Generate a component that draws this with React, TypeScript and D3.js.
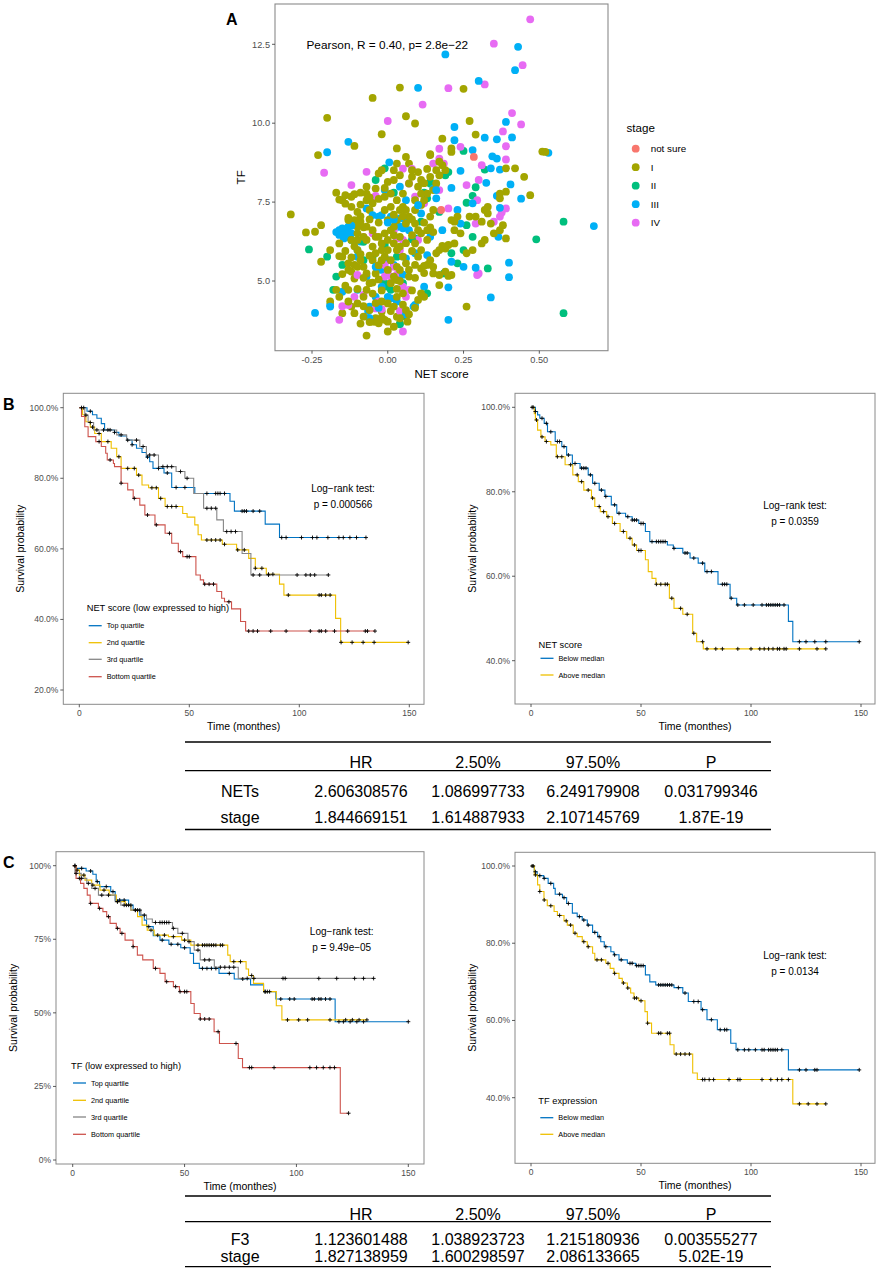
import React from 'react';
import * as d3 from 'd3';

const FONT = "'Liberation Sans', Arial, Helvetica, sans-serif";
const TICK_COL = '#4D4D4D';
const BORDER = '#8A8A8A';
const C_BLUE = '#0073C2';
const C_YEL = '#EFC000';
const C_GREY = '#868686';
const C_RED = '#CD534C';

// ---------------- Panel A data: [NET score, TF] per stage ----------------
const stageNotSure: [number, number][] = [[0.284, 8.93], [0.176, 7.25]];

const stageI: [number, number][] = [
  [-0.32, 7.11], [-0.27, 6.54], [-0.24, 6.56], [-0.22, 6.77], [-0.22, 5.61], [-0.23, 8.99],
  [-0.17, 7.8], [-0.15, 7.56], [-0.14, 7.72], [-0.12, 7.67], [-0.11, 7.75], [-0.09, 7.8], [-0.07, 7.77], [-0.16, 7.58],
  [-0.16, 5.79], [-0.15, 5.77], [-0.13, 5.56], [-0.12, 5.3], [-0.11, 5.08], [-0.15, 5.22], [-0.11, 5.51],
  [-0.17, 4.72], [-0.19, 4.35], [-0.16, 4.5], [-0.13, 4.72], [-0.12, 4.19], [-0.11, 3.98], [-0.15, 3.98], [-0.05, 3.71],
  [-0.04, 3.82], [0.0, 3.71], [0.03, 3.87], [0.04, 3.66], [-0.02, 4.03],
  [-0.1, 7.19], [-0.09, 6.88], [-0.08, 6.7], [-0.06, 7.25], [-0.05, 7.46], [-0.05, 7.56], [-0.04, 7.93], [-0.03, 8.41],
  [-0.02, 8.51], [0.0, 8.14], [0.02, 8.51], [0.03, 8.72], [0.07, 8.72], [0.06, 8.93], [-0.07, 7.99], [-0.07, 7.56],
  [-0.07, 6.72], [-0.05, 6.61], [-0.04, 6.4], [-0.02, 6.19], [-0.05, 6.09], [-0.08, 6.4], [-0.1, 6.51], [-0.1, 6.72],
  [-0.12, 6.3], [-0.11, 6.93],
  [-0.08, 4.5], [-0.07, 4.72], [-0.06, 4.93], [-0.04, 5.24], [-0.02, 5.66], [0.0, 5.98], [0.02, 6.19], [0.03, 5.98],
  [0.04, 6.4], [0.06, 6.82], [0.07, 7.04], [0.09, 7.25], [0.11, 7.41], [0.12, 7.56], [0.13, 7.77], [0.15, 7.88],
  [0.16, 8.09], [0.17, 8.35], [0.19, 8.51], [0.18, 8.67], [0.14, 8.99], [0.17, 8.78], [0.21, 9.09],
  [0.09, 7.56], [0.1, 7.99], [0.11, 8.2], [0.07, 8.09], [0.05, 7.77], [0.04, 7.25], [0.03, 6.93], [0.01, 6.61],
  [0.01, 7.35], [-0.01, 7.25], [0.0, 6.93], [0.02, 6.72], [-0.01, 6.51], [0.0, 6.3], [-0.02, 5.98], [-0.05, 5.66],
  [-0.09, 5.66], [-0.08, 5.45], [-0.07, 5.24], [-0.1, 5.98],
  [0.1, 6.61], [0.11, 6.51], [0.13, 6.61], [0.14, 7.04], [0.15, 7.25], [0.09, 6.19], [0.11, 5.98], [0.1, 5.77],
  [0.09, 5.51], [0.11, 5.4], [0.13, 5.51], [0.14, 5.66], [0.15, 5.24], [0.17, 5.19], [0.19, 5.3], [0.21, 5.19],
  [0.19, 6.03], [0.17, 5.98], [0.2, 6.14], [0.21, 6.93], [0.22, 6.88], [0.23, 7.04], [0.22, 6.61],
  [0.12, 4.5], [0.11, 4.61], [0.05, 4.61], [0.03, 4.5], [0.02, 4.19], [-0.02, 4.35], [0.01, 4.93], [0.02, 5.14],
  [0.04, 5.35], [0.06, 5.56], [0.07, 5.14], [0.05, 5.77], [0.04, 6.09],
  [0.26, 4.19], [0.17, 4.87], [0.22, 6.19], [0.24, 6.51], [0.27, 7.04], [0.29, 7.04], [0.31, 6.88], [0.32, 7.25],
  [0.33, 7.35], [0.35, 6.51], [0.37, 6.61], [0.38, 6.77], [0.39, 7.83], [0.37, 7.77], [0.39, 8.57], [0.42, 8.57],
  [0.45, 8.3], [0.47, 7.72], [0.52, 9.09], [0.39, 6.35],
  [-0.01, 7.67], [0.01, 7.77], [0.03, 7.56], [0.05, 7.35], [0.06, 7.25], [0.08, 8.51], [0.11, 7.77], [0.14, 8.3], [0.16, 8.51],
  [-0.04, 5.88], [-0.01, 5.77], [0.01, 5.66], [-0.1, 6.3], [0.09, 6.82], [0.03, 5.03], [0.0, 4.29], [-0.06, 4.08],
  [-0.08, 3.87], [-0.03, 3.66], [-0.1, 4.29], [-0.19, 5.98], [-0.16, 6.19], [-0.13, 6.93],
  [-0.2, 10.17], [-0.11, 9.28], [-0.05, 10.8], [-0.02, 9.65], [0.03, 9.2], [0.04, 11.13], [0.06, 10.22], [0.09, 9.99],
  [0.25, 11.09], [0.27, 10.07], [0.29, 9.64], [0.18, 9.51], [0.21, 9.2], [0.14, 9.02], [0.51, 9.1],
  [0.37, 7.62], [0.33, 7.14], [0.34, 6.82], [0.32, 6.3], [0.31, 6.19], [0.28, 5.98], [0.26, 5.88], [0.2, 5.16],
  [0.15, 5.45], [0.12, 5.48], [0.16, 5.88], [0.18, 6.11],
  [-0.07, 3.27], [-0.04, 3.71], [-0.06, 3.7], [-0.01, 3.77], [0.0, 3.4], [0.04, 3.82], [0.06, 4.08], [0.065, 3.71], [0.09, 4.15],
  [-0.14, 7.45], [-0.12, 7.35], [-0.09, 7.42], [-0.06, 7.65], [-0.03, 7.6], [-0.01, 7.95], [0.02, 8.2], [0.04, 8.35],
  [0.08, 8.3], [0.1, 8.45], [0.12, 8.1], [0.13, 8.55],
  [-0.13, 7.0], [-0.09, 7.05], [-0.06, 6.95], [-0.03, 6.85], [0.02, 7.1], [0.05, 7.05], [0.08, 6.95], [0.12, 6.85], [0.14, 6.7],
  [-0.11, 6.1], [-0.07, 6.3], [-0.03, 6.4], [0.02, 6.45], [0.06, 6.2], [0.08, 6.45], [0.13, 6.3], [0.15, 6.55],
  [-0.14, 5.95], [-0.12, 5.75], [-0.09, 5.85], [-0.06, 5.8], [-0.03, 5.5], [0.0, 5.35], [0.03, 5.45], [0.07, 5.35], [0.08, 5.95],
  [-0.13, 5.35], [-0.1, 5.45], [-0.08, 5.1], [-0.05, 4.95], [-0.03, 5.05], [0.04, 5.0], [0.09, 5.1], [0.12, 5.25],
  [-0.14, 4.85], [-0.1, 4.75], [-0.05, 4.6], [-0.02, 4.7], [0.03, 4.75], [0.08, 4.7], [0.1, 4.4],
  [-0.13, 4.35], [-0.08, 4.2], [-0.04, 4.3], [0.01, 4.05], [0.05, 4.25], [0.07, 3.95], [-0.09, 3.65], [0.02, 3.55], [-0.02, 3.85],
];

const stageII: [number, number][] = [
  [-0.26, 6.0], [-0.2, 5.77], [-0.17, 5.14], [-0.18, 4.72], [-0.15, 5.51], [-0.08, 5.66], [-0.05, 5.77], [-0.01, 4.93],
  [0.0, 4.82], [0.01, 4.72], [0.03, 5.77], [0.05, 4.93], [0.09, 6.35], [0.11, 6.88], [0.17, 7.19], [0.14, 8.09],
  [0.26, 6.77], [0.29, 7.97], [0.25, 5.98], [0.28, 6.4], [0.33, 5.4], [0.185, 5.24], [0.23, 5.56], [0.21, 5.88],
  [0.13, 4.61], [0.58, 6.88], [0.49, 6.32], [0.58, 3.98], [0.05, 3.92], [0.06, 3.87],
  [0.25, 9.12], [0.32, 8.53], [0.28, 7.7], [0.26, 7.48], [0.14, 8.14], [0.19, 8.35], [0.2, 8.45], [-0.01, 8.57],
  [-0.04, 8.2], [0.02, 7.8], [0.12, 7.8], [0.13, 7.62], [0.08, 6.32], [-0.08, 6.24], [-0.12, 6.3], [-0.01, 6.14], [0.04, 3.63],
];

const stageIII: [number, number][] = [
  [-0.01, 7.88], [0.01, 7.04], [0.03, 6.72], [0.05, 6.67], [0.06, 6.88], [0.07, 6.61], [-0.1, 5.77], [-0.1, 5.98],
  [-0.07, 5.14], [-0.02, 5.35], [0.0, 5.66], [0.02, 5.51], [0.06, 5.72], [0.09, 5.88], [0.12, 4.82], [0.09, 4.24],
  [-0.06, 4.19], [-0.1, 4.72], [-0.19, 4.24], [-0.24, 3.99], [-0.15, 4.66], [0.0, 4.5], [-0.04, 4.5],
  [-0.16, 6.61], [-0.15, 6.67], [-0.14, 6.56], [-0.13, 6.72], [-0.16, 6.46], [-0.13, 6.4], [-0.12, 6.51], [-0.145, 6.35],
  [-0.07, 7.3], [-0.03, 7.04], [-0.02, 7.09], [0.04, 7.99], [0.06, 7.56], [0.04, 6.98], [0.04, 6.72], [0.11, 7.14],
  [-0.09, 6.25], [-0.05, 7.09], [-0.02, 4.82], [0.01, 4.45], [0.03, 4.35],
  [-0.2, 9.08], [-0.13, 9.41], [0.005, 8.76],
  [-0.19, 4.19], [-0.06, 3.82], [-0.065, 4.05], [0.085, 4.19], [0.2, 3.77],
  [0.345, 8.95], [0.36, 8.88], [0.34, 8.57], [0.37, 8.53], [0.24, 8.49], [0.325, 8.11], [0.405, 8.06], [0.44, 7.61],
  [0.36, 7.7], [0.37, 7.32], [0.53, 9.06], [0.68, 6.74], [0.365, 6.4], [0.24, 6.82], [0.21, 7.95], [0.15, 7.93],
  [0.18, 6.61], [0.21, 5.61], [0.25, 5.45], [0.29, 5.42], [0.4, 5.58], [0.4, 5.12], [0.34, 4.48], [0.2, 4.8],
  [0.13, 5.82], [0.14, 6.4], [0.23, 7.25], [0.28, 7.46], [0.16, 7.62], [0.16, 7.88],
  [0.19, 12.18], [0.43, 12.42], [0.42, 11.68], [0.3, 11.34], [0.1, 11.12], [0.22, 9.88], [0.39, 10.04], [0.22, 9.46],
  [0.32, 9.54], [0.36, 9.49], [0.41, 9.55], [0.28, 9.15],
  [-0.12, 6.75], [-0.17, 6.55], [0.02, 6.95], [0.0, 6.85], [-0.04, 5.45], [0.05, 5.2], [0.1, 7.4], [-0.03, 4.15], [0.06, 3.95],
];

const stageIV: [number, number][] = [
  [-0.21, 8.43], [-0.07, 8.46], [-0.12, 8.04], [0.05, 8.56], [0.07, 8.09], [0.09, 7.67], [0.12, 7.46], [0.15, 8.72],
  [0.17, 8.88], [0.17, 7.88], [0.2, 7.3], [0.26, 8.04], [0.3, 8.2], [0.29, 6.82], [0.35, 6.88], [0.37, 7.04],
  [0.39, 7.3], [0.3, 5.24], [0.295, 5.19], [0.03, 6.35], [0.05, 6.3], [0.04, 5.98], [0.02, 5.45], [-0.01, 5.51],
  [-0.02, 5.56], [0.01, 5.14], [-0.01, 5.14], [-0.1, 5.19], [-0.11, 4.5], [-0.08, 4.56], [-0.13, 4.24], [-0.16, 3.77],
  [-0.04, 4.13], [0.05, 4.82], [0.07, 4.72], [0.06, 4.5], [-0.05, 6.51], [-0.08, 6.4], [0.1, 6.3],
  [0.47, 13.29], [0.35, 12.52], [0.445, 11.84], [0.2, 11.11], [0.32, 11.23], [0.115, 10.59], [0.0, 10.07], [0.41, 10.32],
  [0.44, 9.96], [0.38, 9.74], [0.39, 9.27], [0.39, 8.85], [0.17, 9.19], [0.24, 9.25], [0.31, 8.67], [0.295, 7.56],
  [0.376, 7.17], [0.185, 8.72], [-0.15, 4.2], [-0.02, 4.11], [0.05, 3.4],
  [0.0, 5.3], [0.03, 5.2], [-0.03, 4.35], [0.04, 4.05], [0.02, 6.6], [-0.04, 7.7], [0.08, 8.55],
];

const stageNames = ['not sure', 'I', 'II', 'III', 'IV'];
const stageColors = ['#F8766D', '#A3A500', '#00BF7D', '#00B0F6', '#E76BF3'];
const scatterXTicks = [-0.25, 0, 0.25, 0.5];
const scatterXLabels = ['-0.25', '0.00', '0.25', '0.50'];
const scatterYTicks = [5, 7.5, 10, 12.5];
const scatterYLabels = ['5.0', '7.5', '10.0', '12.5'];

// ---------------- Kaplan–Meier data ----------------
type Curve = { t: number[]; s: number[]; end: number; cens: number[]; color: string };

const bTopT = [0, 3.5, 6, 8, 10, 11.5, 16, 18, 21.5, 24, 26, 28.5, 30.5, 32, 33.5, 38.5, 42, 52.5, 68.5, 70.5, 84.5, 91];
const bTopS = [1, 0.99, 0.98, 0.97, 0.955, 0.937, 0.93, 0.92, 0.908, 0.895, 0.885, 0.873, 0.86, 0.847, 0.828, 0.815, 0.774, 0.757, 0.735, 0.707, 0.67, 0.632];
const bTopCens = [2, 5, 13, 16, 24, 31, 36, 40, 44, 48, 58, 62, 63, 64, 66, 74, 75, 76, 79, 82, 92, 94, 101, 106, 108, 113, 118, 120, 123, 126, 130.3];
const bSecT = [0, 1.5, 3, 5, 7, 10, 14.5, 17, 19, 26, 28.5, 31.5, 36, 39, 47, 49, 52.5, 54, 55.5, 65, 71.5, 77, 80, 85, 91, 93, 116.5, 118.8];
const bSecS = [1, 0.98, 0.96, 0.945, 0.927, 0.904, 0.885, 0.861, 0.828, 0.809, 0.781, 0.773, 0.743, 0.72, 0.7, 0.69, 0.668, 0.64, 0.625, 0.613, 0.597, 0.573, 0.545, 0.528, 0.5, 0.469, 0.403, 0.335];
const bSecCens = [6, 9, 13, 18, 22, 25, 27, 33, 35, 37, 40, 42, 44, 58, 60, 62, 64, 66, 72, 75, 80, 83, 86, 88, 95, 109, 110, 112, 114, 119, 124, 129, 134, 149.5];
const bThirdT = [0, 2.5, 4, 6.5, 17, 21.5, 27.5, 30.5, 36, 44, 48, 52, 56.5, 62.5, 65.5, 74, 78];
const bThirdS = [1, 0.979, 0.958, 0.937, 0.923, 0.908, 0.89, 0.866, 0.833, 0.819, 0.8, 0.757, 0.715, 0.682, 0.649, 0.587, 0.526];
const bThirdCens = [1, 3, 5, 8, 11, 14, 19, 22, 26, 29, 32, 34, 38, 40, 42, 46, 49, 58, 60, 62, 67, 69, 71, 79, 82, 86, 99, 103, 105, 107, 113.2];
const bBotT = [0, 1, 2.5, 4, 7.5, 10, 12, 12.7, 15.5, 16, 19, 22, 24.5, 27.5, 29.8, 34.4, 39, 42, 45, 47, 53, 55, 56.5, 62.5, 64.7, 66, 69.2, 73.3, 75.6];
const bBotS = [1, 0.975, 0.946, 0.918, 0.904, 0.89, 0.871, 0.852, 0.842, 0.833, 0.786, 0.767, 0.743, 0.724, 0.696, 0.668, 0.644, 0.616, 0.592, 0.578, 0.526, 0.512, 0.5, 0.479, 0.46, 0.45, 0.43, 0.394, 0.367];
const bBotCens = [9, 14, 19, 25, 31, 35, 41, 46, 49, 50, 57, 59, 61, 68, 77, 79, 81, 87, 94, 105, 109, 110, 112, 116, 122, 130, 131, 134.4];

const bBelowT = [0, 2, 3, 4, 6, 7.5, 11, 14, 16.2, 18.8, 22.3, 26, 28, 31, 33.6, 36.5, 39, 43, 46, 49, 52, 54, 62, 64.7, 69, 72.3, 76, 79, 85, 90.5, 93.5, 117, 119];
const bBelowS = [1, 0.99, 0.982, 0.974, 0.962, 0.942, 0.919, 0.907, 0.887, 0.867, 0.856, 0.84, 0.82, 0.804, 0.789, 0.769, 0.749, 0.741, 0.733, 0.725, 0.706, 0.682, 0.674, 0.666, 0.655, 0.643, 0.631, 0.611, 0.581, 0.548, 0.532, 0.493, 0.445];
const bBelowCens = [0.5, 1, 2, 5, 7, 9, 12, 13, 15, 17, 20, 23, 24, 25, 27, 29, 32, 34, 38, 40, 44, 46, 47, 48, 50, 51, 55, 57, 58, 59, 60, 61, 65, 70, 71, 74, 78, 80, 82, 87, 88, 89, 91, 94, 97, 101, 105, 107, 108, 109, 110, 111, 112, 113, 115, 122, 125, 129, 134, 149.2];
const bAboveT = [0, 1.5, 2, 3, 4.5, 6.4, 9, 11.5, 15.5, 19, 21.5, 24, 27.5, 29, 31.5, 34.4, 37, 40.5, 43.5, 46, 48, 52, 53.3, 55, 56.8, 62.9, 65, 69, 73.5, 75.3, 78.3];
const bAboveS = [1, 0.985, 0.97, 0.946, 0.93, 0.919, 0.911, 0.883, 0.864, 0.84, 0.824, 0.804, 0.785, 0.765, 0.753, 0.741, 0.725, 0.706, 0.69, 0.674, 0.661, 0.639, 0.611, 0.595, 0.581, 0.548, 0.524, 0.51, 0.465, 0.445, 0.428];
const bAboveCens = [2.5, 5, 7, 12, 14, 18, 21, 23, 26, 28, 31, 33, 35, 38, 42, 45, 47, 49, 50, 57, 59, 61, 62, 64, 68, 71, 74, 78, 80, 84, 87, 94, 100, 104, 106, 108, 110, 112, 113, 115, 116, 122, 130, 134];

const cTopT = [0, 1.5, 6, 9, 10.5, 12, 17, 19, 25, 27, 30, 32, 33, 36, 39, 43, 48.3, 52.5, 54, 56.6, 65.4, 72.2, 79.5, 85.3, 90.8, 117.3];
const cTopS = [1, 0.991, 0.982, 0.971, 0.946, 0.929, 0.912, 0.883, 0.866, 0.849, 0.832, 0.815, 0.793, 0.762, 0.747, 0.733, 0.721, 0.702, 0.668, 0.651, 0.634, 0.615, 0.595, 0.572, 0.547, 0.47];
const cTopCens = [1, 4, 8, 11, 15, 18, 21, 23, 26, 29, 34, 40, 44, 47, 50, 58, 60, 62, 64, 70, 76, 86, 88, 93, 97, 99, 107, 108, 110, 111, 113, 115, 119, 121, 124, 127, 130, 150];
const cSecT = [0, 1.5, 3, 5.5, 8.5, 12.2, 16.3, 19.5, 23.5, 26, 29, 31, 33.3, 36.4, 42.8, 48.7, 52.8, 69.3, 70.4, 77.5, 78.6, 80.8, 85.3, 91, 93.5];
const cSecS = [1, 0.985, 0.968, 0.951, 0.934, 0.917, 0.9, 0.878, 0.866, 0.849, 0.827, 0.798, 0.781, 0.764, 0.759, 0.747, 0.73, 0.696, 0.674, 0.649, 0.627, 0.6, 0.572, 0.524, 0.476];
const cSecCens = [2, 5, 9, 14, 20, 24, 28, 35, 38, 41, 45, 50, 56, 58, 59, 60, 61, 62, 63, 64, 66, 67, 72, 75, 80, 86, 87, 96, 101, 105, 115, 122, 125, 128, 131.5];
const cThirdT = [0, 1, 3.8, 6.3, 8.5, 11.5, 19, 21.5, 26, 30.5, 33, 35.6, 44.6, 47, 51.5, 54.3, 57, 63.3, 74];
const cThirdS = [1, 0.974, 0.957, 0.94, 0.923, 0.9, 0.878, 0.866, 0.849, 0.832, 0.819, 0.807, 0.787, 0.77, 0.742, 0.713, 0.68, 0.655, 0.617];
const cThirdCens = [1.5, 4, 7, 10, 13, 16, 20, 23, 25, 28, 30, 32, 37, 39, 40, 41, 42, 43, 45, 49, 52, 56, 59, 61, 66, 68, 70, 72, 78, 81, 94, 95, 110, 118, 126, 130, 134.5];
const cBotT = [0, 1.5, 3.5, 5, 6.5, 7.8, 11.5, 13.5, 15.2, 16.7, 19.5, 21.2, 23.4, 27, 28.9, 31.3, 36, 39, 41.3, 45, 47.7, 52.8, 54.3, 57, 63.2, 65.6, 74, 75.9, 119.6];
const cBotS = [1, 0.957, 0.94, 0.923, 0.9, 0.872, 0.855, 0.844, 0.827, 0.804, 0.787, 0.77, 0.747, 0.725, 0.696, 0.68, 0.651, 0.634, 0.606, 0.589, 0.572, 0.532, 0.498, 0.479, 0.436, 0.396, 0.345, 0.314, 0.159];
const cBotCens = [1, 3, 8, 12, 16, 20, 22, 27, 37, 42, 46, 48, 50, 51, 57, 59, 61, 65, 73, 79, 80, 90, 106, 109, 112, 115, 117, 123.3];

const cBelowT = [0, 1.5, 2.8, 5.8, 7.8, 10.3, 11, 14.3, 16.2, 18.8, 21, 23.3, 25.6, 28, 30.3, 31.7, 33.3, 36.3, 37.7, 40, 43.8, 47.6, 52, 54, 56.7, 65, 69, 71.5, 77.3, 80, 84.7, 90.8, 93.2, 117];
const cBelowS = [1, 0.985, 0.975, 0.968, 0.955, 0.942, 0.927, 0.918, 0.903, 0.878, 0.869, 0.86, 0.847, 0.828, 0.817, 0.804, 0.791, 0.778, 0.77, 0.757, 0.748, 0.742, 0.718, 0.7, 0.692, 0.685, 0.671, 0.649, 0.628, 0.602, 0.576, 0.541, 0.524, 0.472];
const cBelowCens = [0.5, 1, 2, 4, 6, 9, 13, 15, 17, 22, 24, 26, 29, 31, 34, 38, 41, 45, 46, 48, 49, 50, 51, 58, 59, 60, 61, 62, 63, 64, 67, 70, 74, 76, 78, 82, 86, 88, 89, 94, 97, 99, 102, 105, 106, 108, 109, 110, 111, 112, 114, 122, 125, 129, 130, 149.2];
const cAboveT = [0, 1.5, 3, 4, 5.9, 7.4, 10.5, 12, 15, 16.5, 19.2, 21, 23.3, 25.6, 28, 29, 34, 36, 37.7, 40, 41.5, 43.8, 45.3, 46.8, 49, 51.8, 52.9, 54.8, 63.2, 65, 73.5, 75.6, 119];
const cAboveS = [1, 0.977, 0.951, 0.934, 0.912, 0.897, 0.882, 0.872, 0.858, 0.847, 0.826, 0.817, 0.804, 0.791, 0.774, 0.757, 0.748, 0.735, 0.722, 0.709, 0.697, 0.684, 0.671, 0.658, 0.651, 0.623, 0.593, 0.567, 0.537, 0.513, 0.464, 0.447, 0.384];
const cAboveCens = [2, 4, 6, 9, 13, 16, 18, 20, 24, 26, 30, 32, 35, 38, 42, 44, 47, 48, 50, 53, 58, 59, 62, 63, 66, 68, 70, 72, 78, 79, 81, 83, 90, 94, 95, 105, 109, 112, 114, 117, 122, 126, 130, 134];

const quartileLabels = ['Top quartile', '2nd quartile', '3rd quartile', 'Bottom quartile'];
const medianLabels = ['Below median', 'Above median'];
const timeTicks = [0, 50, 100, 150];

// ---------------- Tables ----------------
const tableHeader = ['', 'HR', '2.50%', '97.50%', 'P'];
const tableBRows = [
  ['NETs', '2.606308576', '1.086997733', '6.249179908', '0.031799346'],
  ['stage', '1.844669151', '1.614887933', '2.107145769', '1.87E-19'],
];
const tableCRows = [
  ['F3', '1.123601488', '1.038923723', '1.215180936', '0.003555277'],
  ['stage', '1.827138959', '1.600298597', '2.086133665', '5.02E-19'],
];

// ---------------- helpers ----------------
function survAt(c: Curve, time: number) {
  let v = c.s[0];
  for (let i = 0; i < c.t.length; i++) if (c.t[i] <= time) v = c.s[i];
  return v;
}

type KMProps = {
  rect: [number, number, number, number];
  xr: [number, number];
  yd: [number, number];
  yr: [number, number];
  yTicks: number[];
  yFmt: (v: number) => string;
  curves: Curve[];
  legTitle: string;
  legLabels: string[];
  legX: number;
  legTitleY: number;
  legRowY: number[];
  lr: string[];
  lrX: number;
  lrY: number[];
};

function KMPanel(p: KMProps) {
  const [x0, y0, x1, y1] = p.rect;
  const x = d3.scaleLinear().domain([0, 150]).range(p.xr);
  const y = d3.scaleLinear().domain(p.yd).range(p.yr);
  const line = d3.line<[number, number]>().x(d => x(d[0])).y(d => y(d[1])).curve(d3.curveStepAfter);
  const cx = (x0 + x1) / 2;
  const cy = (y0 + y1) / 2;
  return (
    <g fontFamily={FONT}>
      <rect x={x0} y={y0} width={x1 - x0} height={y1 - y0} fill="none" stroke={BORDER} strokeWidth={1} />
      {p.yTicks.map(t => (
        <g key={'y' + t}>
          <line x1={x0 - 3} x2={x0} y1={y(t)} y2={y(t)} stroke="#333" strokeWidth={0.8} />
          <text x={x0 - 5} y={y(t) + 3} fontSize={8.5} fill={TICK_COL} textAnchor="end">{p.yFmt(t)}</text>
        </g>
      ))}
      {timeTicks.map(t => (
        <g key={'x' + t}>
          <line x1={x(t)} x2={x(t)} y1={y1} y2={y1 + 3} stroke="#333" strokeWidth={0.8} />
          <text x={x(t)} y={y1 + 12} fontSize={8.5} fill={TICK_COL} textAnchor="middle">{t}</text>
        </g>
      ))}
      <text x={cx} y={y1 + 25.5} fontSize={10.5} textAnchor="middle" fill="#000">Time (monthes)</text>
      <text transform={`translate(${x0 - 39},${cy}) rotate(-90)`} fontSize={10.5} textAnchor="middle" fill="#000">Survival probability</text>
      {p.curves.map((c, i) => {
        const pts: [number, number][] = c.t.map((t, j) => [t, c.s[j]] as [number, number]);
        pts.push([c.end, c.s[c.s.length - 1]]);
        return <path key={'c' + i} d={line(pts) || ''} fill="none" stroke={c.color} strokeWidth={1.1} />;
      })}
      {p.curves.map((c, i) => (
        <g key={'cs' + i}>
          {c.cens.map((ct, j) => {
            const px = x(ct), py = y(survAt(c, ct));
            return <path key={j} d={`M${px - 2},${py}h4M${px},${py - 2}v4`} stroke="#000" strokeWidth={0.9} />;
          })}
        </g>
      ))}
      {p.lr.map((s, i) => (
        <text key={'lr' + i} x={p.lrX} y={p.lrY[i]} fontSize={10} textAnchor="middle" fill="#000">{s}</text>
      ))}
      <text x={p.legX} y={p.legTitleY} fontSize={9.3} fill="#000">{p.legTitle}</text>
      {p.legLabels.map((s, i) => (
        <g key={'lg' + i}>
          <line x1={p.legX + 2} x2={p.legX + 15} y1={p.legRowY[i]} y2={p.legRowY[i]} stroke={p.curves[i].color} strokeWidth={1.3} />
          <text x={p.legX + 20} y={p.legRowY[i] + 2.6} fontSize={7.3} fill="#000">{s}</text>
        </g>
      ))}
    </g>
  );
}

function Table({ top, headLine, bottom, headY, rowY, rows }: { top: number; headLine: number; bottom: number; headY: number; rowY: number[]; rows: string[][] }) {
  const colX = [240, 361, 478, 593, 711];
  return (
    <g fontFamily={FONT} fontSize={16} fill="#000">
      <line x1={185} x2={771} y1={top} y2={top} stroke="#000" strokeWidth={1.3} />
      <line x1={185} x2={771} y1={headLine} y2={headLine} stroke="#000" strokeWidth={1.3} />
      <line x1={185} x2={771} y1={bottom} y2={bottom} stroke="#000" strokeWidth={1.3} />
      {tableHeader.map((h, i) => (
        <text key={'h' + i} x={colX[i]} y={headY} textAnchor="middle">{h}</text>
      ))}
      {rows.map((r, ri) => r.map((c, ci) => (
        <text key={ri + '-' + ci} x={colX[ci]} y={rowY[ri]} textAnchor="middle">{c}</text>
      )))}
    </g>
  );
}

function ScatterA() {
  const x = d3.scaleLinear().domain([-0.25, 0.5]).range([312, 539.3]);
  const y = d3.scaleLinear().domain([5, 12.5]).range([281, 44.3]);
  const groups = [stageI, stageII, stageIII, stageIV];
  const groupColor = [stageColors[1], stageColors[2], stageColors[3], stageColors[4]];
  const pts: { v: number; tf: number; col: string }[] = [];
  const maxLen = d3.max(groups, g => g.length) || 0;
  for (let i = 0; i < maxLen; i++) {
    groups.forEach((g, gi) => {
      if (i < g.length) pts.push({ v: g[i][0], tf: g[i][1], col: groupColor[gi] });
    });
  }
  stageNotSure.forEach(d => pts.push({ v: d[0], tf: d[1], col: stageColors[0] }));
  const [x0, y0, x1, y1] = [275, 4, 608, 350.7];
  return (
    <g fontFamily={FONT}>
      <rect x={x0} y={y0} width={x1 - x0} height={y1 - y0} fill="none" stroke={BORDER} strokeWidth={1.1} />
      {pts.map((d, i) => (
        <circle key={i} cx={x(d.v)} cy={y(d.tf)} r={3.9} fill={d.col} />
      ))}
      {scatterYTicks.map((t, i) => (
        <g key={'y' + i}>
          <line x1={x0 - 3} x2={x0} y1={y(t)} y2={y(t)} stroke="#333" strokeWidth={0.8} />
          <text x={x0 - 5} y={y(t) + 3.2} fontSize={9.2} fill={TICK_COL} textAnchor="end">{scatterYLabels[i]}</text>
        </g>
      ))}
      {scatterXTicks.map((t, i) => (
        <g key={'x' + i}>
          <line x1={x(t)} x2={x(t)} y1={y1} y2={y1 + 3} stroke="#333" strokeWidth={0.8} />
          <text x={x(t)} y={y1 + 12.5} fontSize={9.2} fill={TICK_COL} textAnchor="middle">{scatterXLabels[i]}</text>
        </g>
      ))}
      <text x={(x0 + x1) / 2} y={378} fontSize={11.5} textAnchor="middle" fill="#000">NET score</text>
      <text transform={`translate(245,${(y0 + y1) / 2}) rotate(-90)`} fontSize={11.5} textAnchor="middle" fill="#000">TF</text>
      <text x={306.5} y={48.5} fontSize={11.8} fill="#000">Pearson, R = 0.40, p= 2.8e−22</text>
      <text x={626.5} y={132} fontSize={11.6} fill="#000">stage</text>
      {stageNames.map((s, i) => (
        <g key={'l' + i}>
          <circle cx={635.7} cy={148.7 + i * 18.5} r={3.9} fill={stageColors[i]} />
          <text x={650.7} y={148.7 + i * 18.5 + 3.4} fontSize={9.8} fill="#000">{s}</text>
        </g>
      ))}
    </g>
  );
}

export default function App() {
  const mk = (t: number[], s: number[], cens: number[], color: string): Curve => ({ t, s, end: cens[cens.length - 1], cens, color });
  const bLeft = [mk(bTopT, bTopS, bTopCens, C_BLUE), mk(bSecT, bSecS, bSecCens, C_YEL), mk(bThirdT, bThirdS, bThirdCens, C_GREY), mk(bBotT, bBotS, bBotCens, C_RED)];
  const bRight = [mk(bBelowT, bBelowS, bBelowCens, C_BLUE), mk(bAboveT, bAboveS, bAboveCens, C_YEL)];
  const cLeft = [mk(cTopT, cTopS, cTopCens, C_BLUE), mk(cSecT, cSecS, cSecCens, C_YEL), mk(cThirdT, cThirdS, cThirdCens, C_GREY), mk(cBotT, cBotS, cBotCens, C_RED)];
  const cRight = [mk(cBelowT, cBelowS, cBelowCens, C_BLUE), mk(cAboveT, cAboveS, cAboveCens, C_YEL)];
  const pct1 = d3.format('.1%');
  const pct0 = d3.format('.0%');
  return (
    <svg width={879} height={1282} style={{ position: 'absolute', left: 0, top: 0, background: '#fff' }}>
      <rect width={879} height={1282} fill="#fff" />
      <ScatterA />
      <text x={226} y={25} fontFamily={FONT} fontWeight="bold" fontSize={16}>A</text>
      <text x={3} y={410} fontFamily={FONT} fontWeight="bold" fontSize={16}>B</text>
      <text x={3} y={868} fontFamily={FONT} fontWeight="bold" fontSize={16}>C</text>
      <KMPanel rect={[63.3, 393.3, 424, 704.3]} xr={[79.3, 409.3]} yd={[0.2, 1]} yr={[690, 407.7]}
        yTicks={[0.2, 0.4, 0.6, 0.8, 1.0]} yFmt={pct1} curves={bLeft}
        legTitle="NET score (low expressed to high)" legLabels={quartileLabels} legX={86.7} legTitleY={611}
        legRowY={[625.7, 642.7, 659.3, 676.7]} lr={['Log−rank test:', 'p = 0.000566']} lrX={343} lrY={[491.5, 507.5]} />
      <KMPanel rect={[515, 393.3, 875, 704]} xr={[531, 861]} yd={[0.4, 1]} yr={[660.7, 407.3]}
        yTicks={[0.4, 0.6, 0.8, 1.0]} yFmt={pct1} curves={bRight}
        legTitle="NET score" legLabels={medianLabels} legX={538.5} legTitleY={647.5}
        legRowY={[658.3, 675]} lr={['Log−rank test:', 'p = 0.0359']} lrX={795} lrY={[508.5, 524.5]} />
      <Table top={742} headLine={770.7} bottom={829.5} headY={768.3} rowY={[796.7, 823.3]} rows={tableBRows} />
      <KMPanel rect={[56, 851.7, 424, 1164]} xr={[72.7, 408.3]} yd={[0, 1]} yr={[1160, 865.7]}
        yTicks={[0, 0.25, 0.5, 0.75, 1.0]} yFmt={pct0} curves={cLeft}
        legTitle="TF (low expressed to high)" legLabels={quartileLabels} legX={71} legTitleY={1068.5}
        legRowY={[1083, 1100.3, 1117, 1134.3]} lr={['Log−rank test:', 'p = 9.49e−05']} lrX={341.7} lrY={[935, 951]} />
      <KMPanel rect={[515, 852.3, 875, 1163.3]} xr={[531, 861]} yd={[0.4, 1]} yr={[1097.7, 866]}
        yTicks={[0.4, 0.6, 0.8, 1.0]} yFmt={pct1} curves={cRight}
        legTitle="TF expression" legLabels={medianLabels} legX={538.3} legTitleY={1103.5}
        legRowY={[1117.7, 1134.3]} lr={['Log−rank test:', 'p = 0.0134']} lrX={795} lrY={[958.5, 974.5]} />
      <Table top={1196} headLine={1221.7} bottom={1266.7} headY={1219.5} rowY={[1245, 1262]} rows={tableCRows} />
    </svg>
  );
}
